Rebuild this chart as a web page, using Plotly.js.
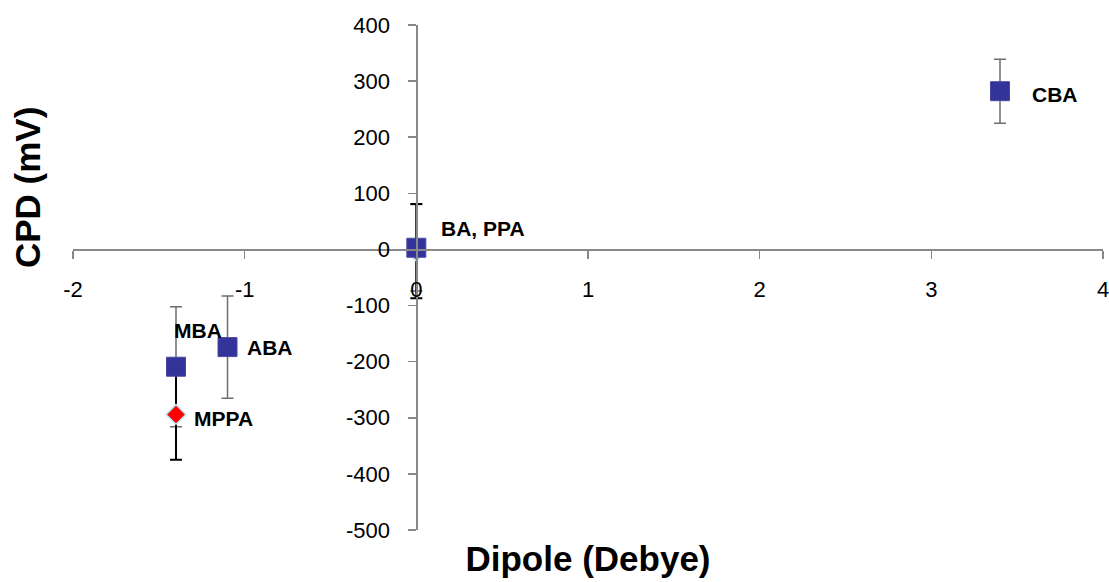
<!DOCTYPE html>
<html>
<head>
<meta charset="utf-8">
<script src="https://cdn.plot.ly/plotly-3.0.1.min.js"></script>
<style>html,body{margin:0;padding:0;background:#fff;}#chart{width:1109px;height:582px;}</style>
</head>
<body>
<div id="chart"></div>
<script>
// Square series (benzoic-acid derivatives)
const squareNames = ["MBA", "ABA", "BA", "CBA"];
const squareDipole = [-1.4, -1.1, 0, 3.4];
const squareCPD = [-209, -174, 3, 282];
const squareErr = [107, 91, 77, 57];

// Diamond series
const diamondNames = ["MPPA", "PPA"];
const diamondDipole = [-1.4, 0];
const diamondCPD = [-294, -3];
const diamondErr = [81, 84];

// Point labels
const labelText = ["MBA", "ABA", "MPPA", "BA, PPA", "CBA"];
const labelX = [-1.42, -0.99, -1.30, 0.14, 3.58];
const labelY = [-144, -174, -302, 37, 276];

// Axis ticks
const xTickVals = [-2, -1, 0, 1, 2, 3, 4];
const xTickText = ["-2", "-1", "0", "1", "2", "3", "4"];
const yTickVals = [-500, -400, -300, -200, -100, 0, 100, 200, 300, 400];
const yTickText = ["-500", "-400", "-300", "-200", "-100", "0", "100", "200", "300", "400"];

const FONT = "Liberation Sans, Arial, sans-serif";
const NARROW = "Liberation Sans Narrow, Arial Narrow, Liberation Sans, Arial, sans-serif";
const AX = "#888888";

const traces = [
  { // error bars of square series (drawn underneath)
    x: squareDipole, y: squareCPD, type: "scatter", mode: "markers",
    marker: {size: 0.1, color: "rgba(0,0,0,0)"}, hoverinfo: "skip", showlegend: false,
    error_y: {type: "data", array: squareErr, visible: true, color: "#6e6e6e", thickness: 1.5, width: 6}
  },
  { // error bars of diamond series
    x: diamondDipole, y: diamondCPD, type: "scatter", mode: "markers",
    marker: {size: 0.1, color: "rgba(0,0,0,0)"}, hoverinfo: "skip", showlegend: false,
    error_y: {type: "data", array: diamondErr, visible: true, color: "#000000", thickness: 2, width: 6}
  },
  {
    x: diamondDipole, y: diamondCPD, text: diamondNames, type: "scatter", mode: "markers", showlegend: false,
    marker: {symbol: "diamond", size: 15, color: "#ff0000", line: {color: "#b4e1ec", width: 1.5}}
  },
  {
    x: squareDipole, y: squareCPD, text: squareNames, type: "scatter", mode: "markers", showlegend: false,
    marker: {symbol: "square", size: 19, color: "#333399", line: {color: "#4a4aa6", width: 1}}
  }
];

const annotations = labelText.map((t, i) => ({
  x: labelX[i], y: labelY[i], xref: "x", yref: "y", text: t, showarrow: false,
  xanchor: "left", yanchor: "middle", borderpad: 0,
  font: {family: NARROW, size: 21, color: "#000", weight: "bold"}
}));
// y-axis title (placed like the reference, above the plot centre)
annotations.push({
  x: -0.0447, y: 0.679, xref: "paper", yref: "paper", text: "CPD (mV)", showarrow: false,
  textangle: -90, xanchor: "center", yanchor: "middle",
  font: {family: FONT, size: 35, color: "#000", weight: "bold"}
});

const layout = {
  width: 1109, height: 582,
  margin: {l: 73, r: 6, t: 25, b: 52, pad: 0},
  paper_bgcolor: "#ffffff", plot_bgcolor: "#ffffff",
  showlegend: false,
  xaxis: {
    range: [-2, 4], domain: [0, 1], anchor: "free", position: 5/9,
    showgrid: false, zeroline: false, showline: true, linecolor: AX, linewidth: 1.5,
    ticks: "outside", ticklen: 8, tickwidth: 1.5, tickcolor: AX,
    tickmode: "array", tickvals: xTickVals, ticktext: xTickText,
    tickfont: {family: FONT, size: 22, color: "#000"}, ticklabelstandoff: 12,
    ticklabeloverflow: "allow",
    automargin: false,
    title: {text: "Dipole (Debye)", font: {family: FONT, size: 35, color: "#000", weight: "bold"}, standoff: 245}
  },
  yaxis: {
    range: [-500, 400], domain: [0, 1], anchor: "free", position: 1/3,
    showgrid: false, zeroline: false, showline: true, linecolor: AX, linewidth: 1.5,
    ticks: "outside", ticklen: 8, tickwidth: 1.5, tickcolor: AX,
    tickmode: "array", tickvals: yTickVals, ticktext: yTickText,
    tickfont: {family: FONT, size: 22, color: "#000"}, ticklabelstandoff: 14,
    automargin: false
  },
  annotations: annotations
};

Plotly.newPlot("chart", traces, layout, {staticPlot: true, displayModeBar: false});
</script>
</body>
</html>
